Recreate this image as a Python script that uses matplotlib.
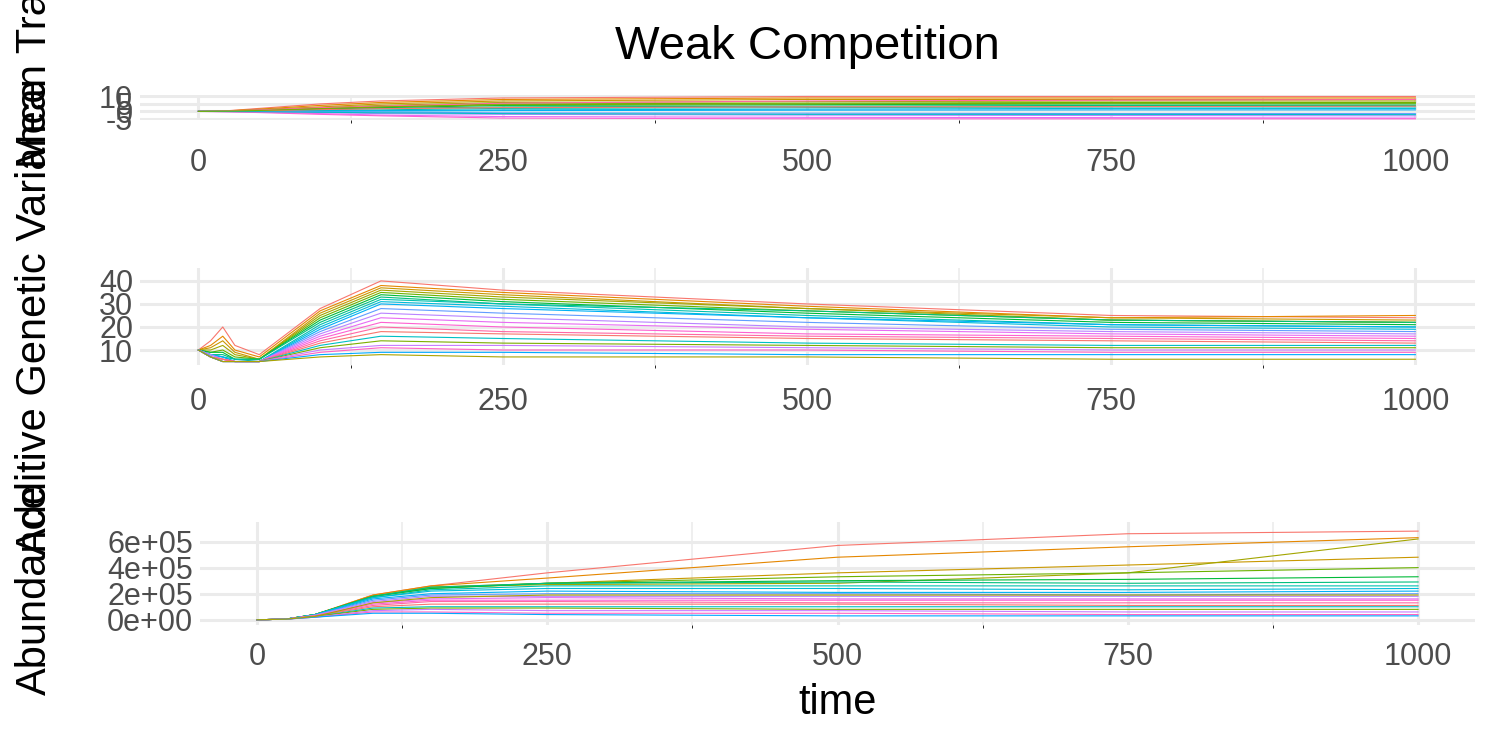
import numpy as np
import matplotlib.pyplot as plt

plt.rcParams['font.family'] = ['Liberation Sans', 'DejaVu Sans']

# colours in the ggplot hue palette style
colors = ['#F8766D', '#E58700', '#C99800', '#A3A500', '#6BB100', '#00BA38',
          '#00BF7D', '#00C0AF', '#00BCD8', '#00B0F6', '#619CFF', '#B983FF',
          '#E76BF3', '#FD61D1', '#FF67A4', '#F8766D', '#00BFC4', '#7CAE00',
          '#C77CFF', '#FF61C3', '#00A9FF', '#ABA300']

# ---- Mean trait ----
trait_time = [0, 25, 50, 100, 150, 250, 500, 750, 1000]
trait_vals = [
    [0, 0.5, 2, 5, 7, 9, 10, 10, 10],
    [0, 0.4, 1.5, 4, 6, 8, 9, 9, 9],
    [0, 0.3, 1.2, 3, 5, 7, 8, 8, 8],
    [0, 0.2, 1, 2.5, 4, 6, 6.5, 7, 7],
    [0, 0.2, 0.8, 2, 3, 5, 5.5, 6, 6],
    [0, 0.1, 0.5, 1.5, 2.5, 4, 4.5, 5, 5],
    [0, 0.1, 0.3, 1, 2, 3, 3.5, 4, 4],
    [0, 0, 0.2, 0.5, 1, 2, 2.5, 3, 3],
    [0, 0, 0.1, 0.3, 0.5, 1, 1.5, 2, 2],
    [0, 0, 0, 0, 0.2, 0.5, 0.8, 1, 1],
    [0, 0, -0.1, -0.3, -0.5, -1, -1.2, -1.5, -1.5],
    [0, -0.1, -0.3, -0.8, -1.5, -2, -2.5, -2.8, -3],
    [0, -0.2, -0.5, -1.5, -2.5, -3.5, -4, -4.2, -4.5],
    [0, -0.3, -0.8, -2, -3, -4.5, -5, -5, -5],
    [0, 0.3, 1, 2.5, 3.5, 5.5, 7, 7.5, 8],
    [0, 0.1, 0.4, 1.2, 1.8, 2.5, 3, 3.2, 3.5],
    [0, -0.1, -0.2, -0.6, -1, -1.5, -2, -2, -2.2],
    [0, 0.2, 0.6, 1.8, 3, 4.5, 5, 5.5, 5.5],
]

# ---- Additive genetic variance ----
var_time = [0, 10, 20, 30, 50, 100, 150, 250, 500, 750, 1000]
var_vals = [
    [10, 14, 20, 12, 8, 28, 40, 36, 30, 25, 24],
    [10, 12, 16, 10, 7, 27, 38, 35, 29, 24, 25],
    [10, 11, 14, 9, 6, 26, 37, 34, 28, 24, 23],
    [10, 10, 12, 8, 6, 25, 36, 33, 28, 23, 22],
    [10, 9, 10, 7, 6, 24, 35, 32, 27, 23, 22],
    [10, 9, 9, 6, 6, 23, 34, 31, 26, 22, 21],
    [10, 8, 8, 6, 6, 22, 33, 30, 27, 23, 22],
    [10, 8, 7, 6, 5, 21, 32, 30, 25, 21, 20],
    [10, 8, 7, 5, 5, 20, 31, 29, 24, 20, 19],
    [10, 8, 7, 5, 5, 19, 30, 28, 24, 21, 20],
    [10, 8, 6, 5, 5, 18, 28, 26, 22, 19, 18],
    [10, 8, 6, 5, 5, 17, 26, 24, 20, 18, 17],
    [10, 7, 6, 5, 5, 16, 24, 22, 19, 17, 16],
    [10, 7, 6, 5, 5, 15, 22, 20, 17, 16, 15],
    [10, 7, 6, 5, 5, 14, 20, 18, 16, 15, 14],
    [10, 7, 6, 5, 5, 13, 18, 17, 15, 14, 13],
    [10, 7, 5, 5, 5, 12, 16, 15, 13, 12, 12],
    [10, 7, 5, 5, 5, 11, 14, 13, 12, 11, 11],
    [10, 7, 5, 5, 5, 10, 12, 12, 11, 10, 10],
    [10, 7, 5, 5, 5, 9, 11, 10, 10, 9, 9],
    [10, 7, 5, 5, 5, 8, 9, 9, 8, 8, 8],
    [10, 7, 5, 5, 5, 7, 8, 7, 7, 6, 6],
]

# ---- Abundance (units of 1e5) ----
ab_time = [0, 25, 50, 100, 150, 250, 500, 750, 1000]
ab_vals = [
    [0, 0.05, 0.4, 1.9, 2.6, 3.6, 5.7, 6.6, 6.8],
    [0, 0.05, 0.4, 1.9, 2.6, 3.2, 4.8, 5.6, 6.3],
    [0, 0.05, 0.4, 1.8, 2.5, 2.8, 3.6, 4.2, 4.8],
    [0, 0.05, 0.4, 1.8, 2.5, 2.7, 2.8, 3.6, 6.2],
    [0, 0.05, 0.4, 1.8, 2.4, 2.8, 3.3, 3.6, 4.0],
    [0, 0.05, 0.4, 1.8, 2.4, 2.8, 3.0, 3.1, 3.3],
    [0, 0.05, 0.4, 1.8, 2.5, 2.8, 2.9, 2.8, 2.9],
    [0, 0.05, 0.4, 1.7, 2.3, 2.6, 2.6, 2.6, 2.6],
    [0, 0.05, 0.4, 1.7, 2.2, 2.4, 2.4, 2.3, 2.4],
    [0, 0.05, 0.35, 1.6, 2.0, 2.2, 2.1, 2.1, 2.2],
    [0, 0.05, 0.35, 1.5, 1.9, 2.0, 2.0, 1.9, 2.0],
    [0, 0.05, 0.35, 1.4, 1.8, 1.8, 1.8, 1.8, 1.8],
    [0, 0.05, 0.3, 1.3, 1.6, 1.7, 1.6, 1.6, 1.6],
    [0, 0.05, 0.3, 1.2, 1.5, 1.5, 1.5, 1.5, 1.5],
    [0, 0.05, 0.3, 1.1, 1.4, 1.4, 1.3, 1.3, 1.3],
    [0, 0.05, 0.3, 1.0, 1.2, 1.2, 1.2, 1.1, 1.1],
    [0, 0.05, 0.25, 0.9, 1.0, 1.0, 1.0, 1.0, 1.0],
    [0, 0.05, 0.25, 0.8, 0.9, 0.9, 0.8, 0.8, 0.8],
    [0, 0.05, 0.2, 0.7, 0.8, 0.7, 0.7, 0.6, 0.6],
    [0, 0.05, 0.2, 0.6, 0.6, 0.5, 0.5, 0.4, 0.4],
    [0, 0.05, 0.2, 0.5, 0.5, 0.4, 0.3, 0.3, 0.3],
    [0, 0.05, 0.25, 1.3, 1.7, 1.9, 1.9, 1.9, 1.9],
]

W, H = 1500, 750
fig = plt.figure(figsize=(15, 7.5), dpi=100)


def panel(px_left, px_top, px_right, px_bottom):
    return fig.add_axes([px_left / W, 1 - px_bottom / H,
                         (px_right - px_left) / W, (px_bottom - px_top) / H])


def style(ax, yticks, ylabels, xlim, ylim, xpad):
    ax.set_xlim(*xlim)
    ax.set_ylim(*ylim)
    ax.set_xticks([0, 250, 500, 750, 1000])
    ax.set_xticks([125, 375, 625, 875], minor=True)
    ax.set_yticks(yticks)
    ax.set_yticklabels(ylabels)
    ax.grid(True, which='major', color='#EBEBEB', lw=2.2)
    ax.grid(True, which='minor', color='#EBEBEB', lw=1.1)
    ax.set_axisbelow(True)
    for s in ax.spines.values():
        s.set_visible(False)
    ax.tick_params(length=0, labelsize=22, labelcolor='#4D4D4D', pad=5)
    ax.tick_params(axis='x', pad=xpad)


ax1 = panel(140, 95, 1475, 120)
for i, v in enumerate(trait_vals):
    ax1.plot(trait_time, v, color=colors[i % len(colors)], lw=0.8)
style(ax1, [-5, 0, 5, 10], ['-5', '0', '5', '10'], (-48, 1049), (-5.8, 11), 20)
ax1.set_title('Weak Competition', fontsize=34, pad=26)

ax2 = panel(140, 268, 1475, 365)
for i, v in enumerate(var_vals):
    ax2.plot(var_time, v, color=colors[i % len(colors)], lw=0.8)
style(ax2, [10, 20, 30, 40], ['10', '20', '30', '40'], (-48, 1049), (3.5, 45.6), 16)

ax3 = panel(200, 522, 1475, 625)
for i, v in enumerate(ab_vals):
    ax3.plot(ab_time, np.array(v) * 1e5, color=colors[i % len(colors)], lw=0.8)
style(ax3, [0, 2e5, 4e5, 6e5], ['0e+00', '2e+05', '4e+05', '6e+05'],
      (-49, 1049), (-0.4e5, 7.5e5), 12)
ax3.set_xlabel('time', fontsize=30, labelpad=8)

fig.text(35 / W, 1 - 70 / H, 'Mean Trait', rotation=90, fontsize=30,
         ha='center', va='center')
fig.text(35 / W, 1 - 317 / H, 'Additive Genetic Variance', rotation=90,
         fontsize=30, ha='center', va='center')
fig.text(35 / W, 1 - 590 / H, 'Abundance', rotation=90, fontsize=30,
         ha='center', va='center')

fig.savefig('out.png', dpi=100)
